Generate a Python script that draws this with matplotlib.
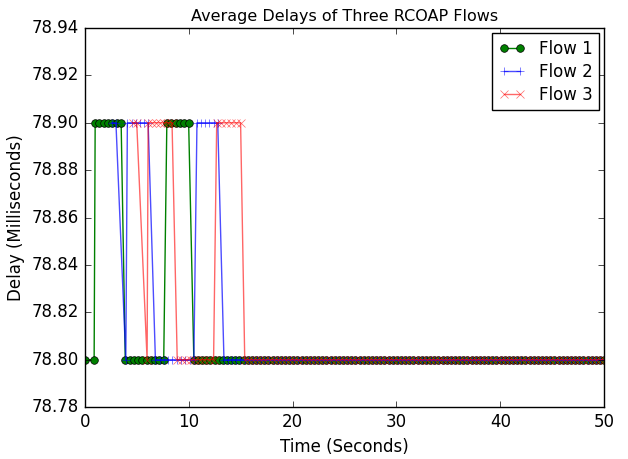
import matplotlib
matplotlib.use("Agg")
import matplotlib.pyplot as plt
import numpy as np

# step segments: (first time, last time, delay, number of samples)
flow1_segments = [
    (0.0, 0.9, 78.80, 2),
    (1.0, 3.5, 78.90, 7),
    (3.9, 7.6, 78.80, 10),
    (7.9, 10.0, 78.90, 6),
    (10.5, 50.0, 78.80, 100),
]
flow2_segments = [
    (2.6, 3.0, 78.90, 2),
    (3.95, 3.95, 78.80, 1),
    (4.1, 6.1, 78.90, 6),
    (6.8, 10.5, 78.80, 10),
    (10.8, 12.8, 78.90, 6),
    (13.4, 50.0, 78.80, 93),
]
flow3_segments = [
    (4.6, 5.0, 78.90, 2),
    (6.0, 6.0, 78.80, 1),
    (6.1, 8.4, 78.90, 7),
    (8.9, 12.4, 78.80, 9),
    (12.7, 15.0, 78.90, 6),
    (15.4, 50.0, 78.80, 88),
]
labels = ["Flow 1", "Flow 2", "Flow 3"]


def expand(segments):
    ts, ds = [], []
    for t0, t1, d, n in segments:
        t = np.linspace(t0, t1, n)
        ts.extend(t)
        ds.extend([d] * n)
    return np.array(ts), np.array(ds)


plt.style.use('classic')
fig = plt.figure(figsize=(6.28, 4.59), dpi=100, facecolor='white')
ax = fig.add_axes([0.135, 0.113, 0.827, 0.826])
ax.set_facecolor('white')

t1, d1 = expand(flow1_segments)
t2, d2 = expand(flow2_segments)
t3, d3 = expand(flow3_segments)
ax.plot(t1, d1, 'go-', markersize=5.5, label=labels[0])
ax.plot(t2, d2, 'b+-', alpha=0.7, label=labels[1])
ax.plot(t3, d3, 'rx-', alpha=0.6, label=labels[2])

ax.set_xlim(0, 50)
ax.set_ylim(78.78, 78.94)
ax.set_yticks(np.arange(78.78, 78.9401, 0.02))
ax.yaxis.set_major_formatter(matplotlib.ticker.FormatStrFormatter('%.2f'))
ax.set_title("Average Delays of Three RCOAP Flows", fontsize=11.5)
ax.set_xlabel("Time (Seconds)", fontsize=12)
ax.set_ylabel("Delay (Milliseconds)", fontsize=12)
ax.legend(loc='upper right', fontsize=12, numpoints=2, handlelength=1.6,
          labelspacing=0.3, borderaxespad=0.3)

fig.savefig('out.png', dpi=100, facecolor='white')
